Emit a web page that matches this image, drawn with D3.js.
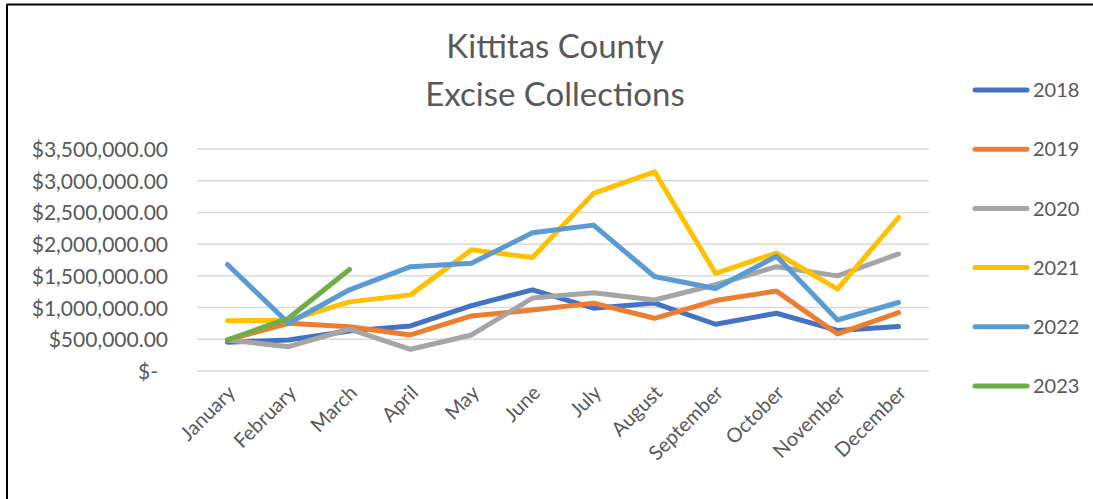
<!DOCTYPE html>
<html><head><meta charset="utf-8">
<script src="https://cdn.jsdelivr.net/npm/d3@7"></script>
<style>body{margin:0;background:#fff}svg{display:block}text{font-family:Lato,"Open Sans",sans-serif;fill:#595959}</style>
</head><body>
<svg id="c" width="1093" height="499"></svg>
<script>
const months = ["January","February","March","April","May","June","July","August","September","October","November","December"];
const yTicks = [0,500000,1000000,1500000,2000000,2500000,3000000,3500000];
const years = ["2018","2019","2020","2021","2022","2023"];
const colors = ["#4472C4","#ED7D31","#A5A5A5","#FFC000","#5B9BD5","#70AD47"];
const s2018 = [455000,490000,630000,710000,1030000,1280000,990000,1070000,737000,910000,640000,700000];
const s2019 = [490000,752000,699000,568000,868000,962000,1070000,831000,1110000,1260000,584000,920000];
const s2020 = [490000,383000,662000,342000,568000,1150000,1235000,1120000,1360000,1645000,1500000,1845000];
const s2021 = [793000,800000,1090000,1200000,1910000,1790000,2800000,3140000,1540000,1860000,1290000,2420000];
const s2022 = [1680000,752000,1280000,1645000,1700000,2180000,2300000,1490000,1300000,1810000,804000,1080000];
const s2023 = [490000,831000,1600000];
const series = [s2018,s2019,s2020,s2021,s2022,s2023];

const svg = d3.select("#c");
// frame
svg.append("line").attr("x1",7).attr("x2",1093).attr("y1",4.5).attr("y2",4.5).attr("stroke","#000").attr("stroke-width",2);
svg.append("line").attr("x1",7).attr("x2",7).attr("y1",4).attr("y2",499).attr("stroke","#000").attr("stroke-width",2);

const x = d3.scaleBand().domain(months).range([197,929]);
const y = d3.scaleLinear().domain([0,3500000]).range([371,149]);

// title
const title = svg.append("text").attr("text-anchor","middle").attr("font-size",33);
title.append("tspan").attr("x",555).attr("y",58).text("Kittitas County");
title.append("tspan").attr("x",555).attr("y",106).text("Excise Collections");

// gridlines
svg.append("g").selectAll("line").data(yTicks).join("line")
  .attr("x1",197).attr("x2",929).attr("y1",d=>y(d)).attr("y2",d=>y(d))
  .attr("stroke","#D9D9D9").attr("stroke-width",1.5);

// y axis labels
const fmt = d => d===0 ? "$-" : "$" + d3.format(",.2f")(d);
const yAxis = d3.axisLeft(y).tickValues(yTicks).tickFormat(fmt).tickSize(0).tickPadding(0);
const gy = svg.append("g").attr("transform","translate(168,0)").call(yAxis);
gy.select(".domain").remove();
gy.selectAll("text").attr("font-size",21).attr("fill","#595959").attr("font-family","Lato").attr("dy","0.36em");
gy.selectAll(".tick").filter(d=>d===0).select("text").attr("dx",-10);

// x axis labels
const xAxis = d3.axisBottom(x).tickSize(0).tickPadding(0);
const gx = svg.append("g").attr("transform","translate(0,371)").call(xAxis);
gx.select(".domain").remove();
gx.selectAll("text").attr("font-size",20).attr("fill","#595959").attr("font-family","Lato")
  .attr("text-anchor","end").attr("dy",0).attr("y",0)
  .attr("transform","translate(9,23) rotate(-45)");

// lines
const line = d3.line().x((d,i)=>x(months[i])+x.bandwidth()/2).y(d=>y(d));
svg.append("g").selectAll("path").data(series).join("path")
  .attr("d",d=>line(d)).attr("fill","none").attr("stroke",(d,i)=>colors[i])
  .attr("stroke-width",5).attr("stroke-linejoin","round").attr("stroke-linecap","round");

// legend
const lg = svg.append("g").selectAll("g").data(years).join("g")
  .attr("transform",(d,i)=>`translate(0,${90+i*59.2})`);
lg.append("line").attr("x1",975).attr("x2",1027).attr("y1",0).attr("y2",0)
  .attr("stroke",(d,i)=>colors[i]).attr("stroke-width",5).attr("stroke-linecap","round");
lg.append("text").attr("x",1033).attr("y",0).attr("dy","0.36em").attr("font-size",20).text(d=>d);
</script>
</body></html>
